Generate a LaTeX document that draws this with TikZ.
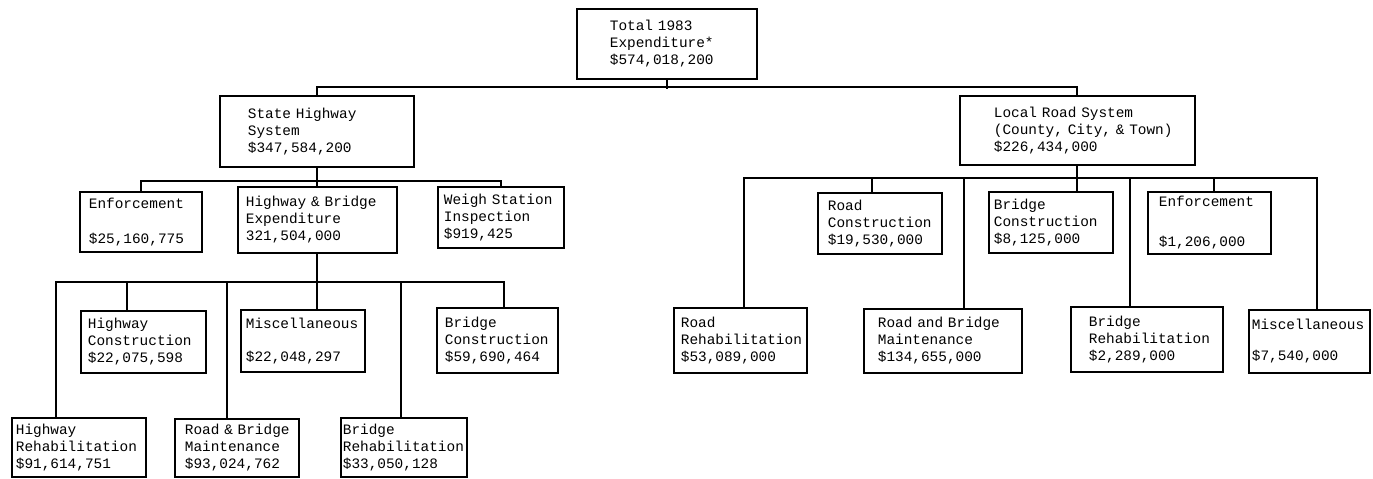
\documentclass[tikz,border=0pt]{standalone}
\usepackage{fontspec}
\newfontfamily\chartfont{Liberation Mono}
\tikzset{box/.style={draw, line width=1pt, anchor=north west, inner sep=0pt, align=left, font=\chartfont\fontsize{8.2pt}{9.6pt}\selectfont}}
\tikzset{inset/.style={execute at begin node={\leftskip=#1\rightskip=-1cm plus 1fil\relax}}}
\tikzset{link/.style={line width=1pt}}

\begin{document}
\begin{tikzpicture}[x=0.02cm, y=-0.02cm]
            \useasboundingbox (0,0) rectangle (1373,478);
            \node[box, text width=3.6cm, minimum height=1.4cm, inset=0.66cm] (tot) at (576,8) {Total 1983\\Expenditure*\\\$574,018,200};
            \node[box, text width=3.88cm, minimum height=1.42cm, inset=0.56cm] (state) at (219,95) {State Highway\\System\\\$347,584,200};
            \node[box, text width=4.7cm, minimum height=1.38cm, inset=0.68cm] (local) at (959,95) {Local Road System\\(County, City, \& Town)\\\$226,434,000};
            \node[box, text width=2.44cm, minimum height=1.2cm, inset=0.18cm] (lenf) at (79,191) {Enforcement\\[10pt]\$25,160,775};
            \node[box, text width=3.18cm, minimum height=1.32cm, inset=0.16cm] (hbe) at (237,186) {Highway \& Bridge\\Expenditure\\321,504,000};
            \node[box, text width=2.52cm, minimum height=1.22cm, inset=0.12cm] (weigh) at (437,186) {Weigh Station\\Inspection\\\$919,425};
            \node[box, text width=2.5cm, minimum height=1.24cm, inset=0.14cm] (hcon) at (80,310) {Highway\\Construction\\\$22,075,598};
            \node[box, text width=2.48cm, minimum height=1.24cm, inset=0.1cm] (lmisc) at (240,309) {Miscellaneous\\[9pt]\$22,048,297};
            \node[box, text width=2.42cm, minimum height=1.3cm, inset=0.16cm] (bcon) at (436,307) {Bridge\\Construction\\\$59,690,464};
            \node[box, text width=2.68cm, minimum height=1.18cm, inset=0.08cm] (hreh) at (11,417) {Highway\\Rehabilitation\\\$91,614,751};
            \node[box, text width=2.48cm, minimum height=1.16cm, inset=0.2cm] (rbm) at (174,418) {Road \& Bridge\\Maintenance\\\$93,024,762};
            \node[box, text width=2.52cm, minimum height=1.18cm, inset=0.04cm] (brh) at (340,417) {Bridge\\Rehabilitation\\\$33,050,128};
            \node[box, text width=2.48cm, minimum height=1.22cm, inset=0.2cm] (rcon) at (817,192) {Road\\Construction\\\$19,530,000};
            \node[box, text width=2.48cm, minimum height=1.22cm, inset=0.1cm] (rbcon) at (988,191) {Bridge\\Construction\\\$8,125,000};
            \node[box, text width=2.46cm, minimum height=1.24cm, inset=0.22cm] (renf) at (1147,191) {Enforcement\\[13pt]\$1,206,000};
            \node[box, text width=2.66cm, minimum height=1.3cm, inset=0.14cm] (rreh) at (673,307) {Road\\Rehabilitation\\\$53,089,000};
            \node[box, text width=3.16cm, minimum height=1.28cm, inset=0.28cm] (rrbm) at (863,308) {Road and Bridge\\Maintenance\\\$134,655,000};
            \node[box, text width=3.04cm, minimum height=1.3cm, inset=0.36cm] (rbrh) at (1070,306) {Bridge\\Rehabilitation\\\$2,289,000};
            \node[box, text width=2.42cm, minimum height=1.26cm, inset=0.06cm] (rmisc) at (1248,309) {Miscellaneous\\[8pt]\$7,540,000};
            \draw[link] (tot.south) -- ++(0,9);
            \draw[link] (state.north) -- ++(0,-8) -| (local.north);
            \draw[link] (state.south) -- (state.south |- hbe.north);
            \draw[link] (lenf.north) -- ++(0,-10) -| (weigh.north);
            \draw[link] (hbe.south) -- (hbe.south |- lmisc.north);
            \draw[link] ([xshift=-0.46cm]hreh.north) -- ++(0,-135) -| ([xshift=0.13cm]bcon.north);
            \draw[link] ([xshift=-0.33cm]hcon.north) -- ++(0,-28);
            \draw[link] ([xshift=-0.2cm]rbm.north) -- ++(0,-136);
            \draw[link] ([xshift=-0.06cm]brh.north) -- ++(0,-135);
            \draw[link] (local.south) -- (local.south |- rbcon.north);
            \draw[link] ([xshift=0.07cm]rreh.north) -- ++(0,-129) -| ([xshift=0.15cm]rmisc.north);
            \draw[link] ([xshift=-0.16cm]rcon.north) -- ++(0,-14);
            \draw[link] ([xshift=0.09cm]renf.north) -- ++(0,-13);
            \draw[link] ([xshift=0.42cm]rrbm.north) -- ++(0,-130);
            \draw[link] ([xshift=-0.34cm]rbrh.north) -- ++(0,-128);
        \end{tikzpicture}
\end{document}
